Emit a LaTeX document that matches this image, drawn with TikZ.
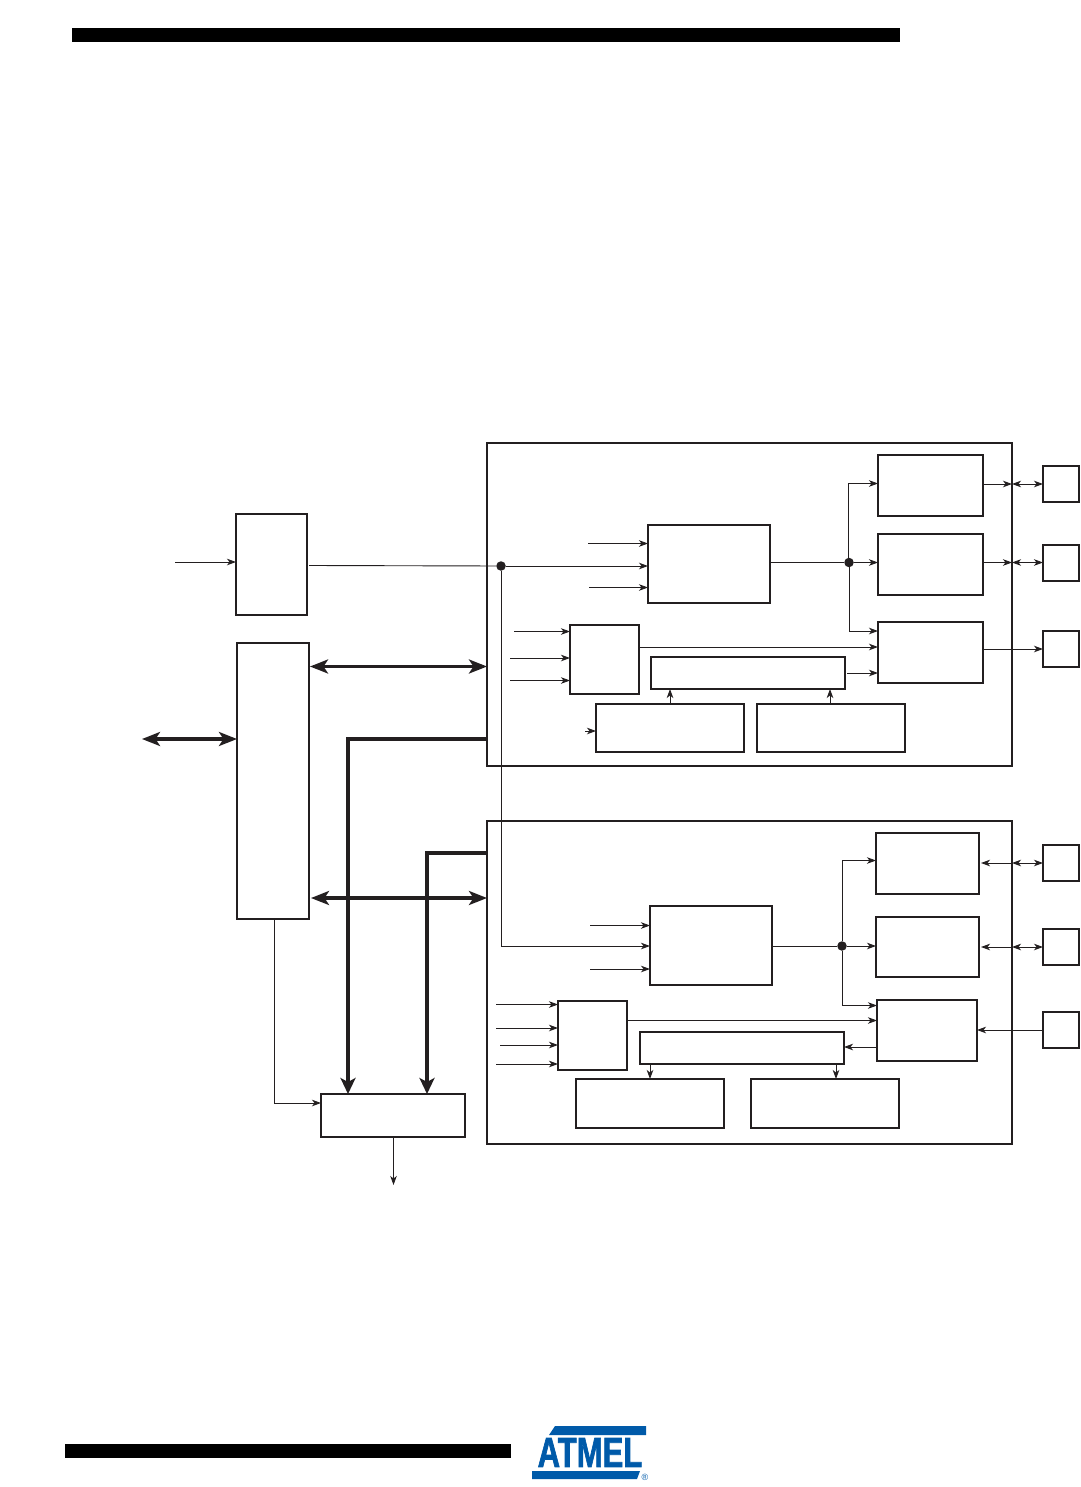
\documentclass[tikz,border=0pt]{standalone}
\usepackage{fontspec}
\setsansfont{Liberation Sans}
\newfontfamily\logofont[FakeBold=2]{Liberation Sans Bold}
\usepackage{xcolor}
\usetikzlibrary{arrows.meta}
\definecolor{ink}{HTML}{231F20}
\definecolor{logo}{HTML}{005AA9}
\tikzset{
  blk/.style={draw=ink, line width=1.5pt, inner sep=0pt, outer sep=0pt, fill=white},
  wire/.style={draw=ink, line width=0.9pt, -{Stealth[length=9pt,width=6.5pt,inset=2.5pt]}},
  wiredbl/.style={draw=ink, line width=0.9pt, {Stealth[length=9pt,width=6.5pt,inset=2.5pt]}-{Stealth[length=9pt,width=6.5pt,inset=2.5pt]}},
  plain/.style={draw=ink, line width=0.9pt},
  bus/.style={draw=ink, line width=3.2pt, -{Stealth[length=16pt,width=15pt,inset=4pt]}},
  busdbl/.style={draw=ink, line width=3.2pt, {Stealth[length=18pt,width=14pt,inset=4.5pt]}-{Stealth[length=18pt,width=14pt,inset=4.5pt]}},
  dot/.style={circle, fill=ink, inner sep=0pt, minimum size=9.5pt}
}
\newcommand{\blkat}[5]{\node[blk, minimum width={(#4-#2)*1pt}, minimum height={(#5-#3)*1pt}] (#1) at ({(#2+#4)/2},{(#3+#5)/2}) {};}

\begin{document}
\begin{tikzpicture}[x=1pt,y=-1pt]
\useasboundingbox (0,0) rectangle (1080,1487);
% page bars
\fill[black] (72,28) rectangle (900,42);
\fill[black] (65,1444) rectangle (511,1458);
% logo
\fill[logo] (555,1426)--(646,1426)--(646,1435)--(549,1435)--cycle;
\fill[logo] (532,1471)--(640,1471)--(637,1479)--(532,1479)--cycle;
\node[text=logo, font=\logofont\fontsize{42}{42}\selectfont, inner sep=0pt, xscale=0.74] (brand) at (590,1452.5) {ATMEL};
\node[text=logo, font=\sffamily\fontsize{9}{9}\selectfont, inner sep=0pt] (regmark) at (645,1477) {®};

% outer panels
\blkat{upanel}{487}{443}{1012}{766}
\blkat{lpanel}{487}{821}{1012}{1144}
% left side
\blkat{clkbox}{236}{514}{307}{615}
\blkat{busbox}{237}{643}{309}{919}
\blkat{destbox}{321}{1094}{465}{1137}
% upper blocks
\blkat{utop}{878}{455}{983}{516}
\blkat{umidr}{878}{534}{983}{595}
\blkat{ulow}{878}{622}{983}{683}
\blkat{ucount}{648}{525}{770}{603}
\blkat{usel}{570}{625}{639}{694}
\blkat{ucmp}{651}{657}{845}{689}
\blkat{uregl}{596}{704}{744}{752}
\blkat{uregr}{757}{704}{905}{752}
\blkat{upina}{1043}{466}{1079}{502}
\blkat{upinb}{1043}{545}{1079}{581}
\blkat{upinc}{1043}{631}{1079}{667}
% lower blocks
\blkat{ltop}{876}{833}{979}{894}
\blkat{lmidr}{876}{917}{979}{977}
\blkat{llow}{877}{1000}{977}{1061}
\blkat{lcount}{650}{906}{772}{985}
\blkat{lsel}{558}{1001}{627}{1070}
\blkat{lcmp}{640}{1032}{844}{1064}
\blkat{lregl}{576}{1079}{724}{1128}
\blkat{lregr}{751}{1079}{899}{1128}
\blkat{lpina}{1043}{845}{1079}{881}
\blkat{lpinb}{1043}{929}{1079}{965}
\blkat{lpinc}{1043}{1012}{1079}{1048}

% dots and free ends
\node[dot] (clkdot) at (501,566) {};
\node[dot] (udot) at (849,562.5) {};
\node[dot] (ldot) at (842,946) {};
\coordinate (clkin) at (175,562);
\coordinate (extbus) at (142,739);
\coordinate (destout) at (393.5,1185);
\coordinate (ulevel) at (310,666.5);
\coordinate (llevel) at (311,898);
\coordinate (ctrla) at (348,739);
\coordinate (ctrlb) at (427,853);
\coordinate (destfeed) at (274.5,1103);
\coordinate (uina) at (588,543.5);
\coordinate (uinb) at (589,587.5);
\coordinate (usela) at (514,631.5);
\coordinate (uselb) at (510,658);
\coordinate (uselc) at (510,680.5);
\coordinate (uselout) at (639,647);
\coordinate (ucmpout) at (847,673);
\coordinate (ureglup) at (670,704);
\coordinate (uregrup) at (830,704);
\coordinate (utick) at (585,731);
\coordinate (lina) at (590,925.5);
\coordinate (linb) at (590,969);
\coordinate (lsela) at (496,1004.5);
\coordinate (lselb) at (496,1028);
\coordinate (lselc) at (500,1045);
\coordinate (lseld) at (496,1064);
\coordinate (lselout) at (626,1020.5);
\coordinate (lcmpin) at (877,1047);
\coordinate (lregld) at (650,1064);
\coordinate (lregrd) at (836,1064);

% left side wires
\draw[wire] (clkin) -- (clkin -| clkbox.west);
\draw[plain] (309,565.5) -- (clkdot);
\draw[busdbl] (extbus) -- (extbus -| busbox.west);
\draw[busdbl] (ulevel) -- (ulevel -| upanel.west);
\draw[busdbl] (llevel) -- (llevel -| lpanel.west);
\draw[bus] (ctrla -| upanel.west) -- (ctrla) -- (ctrla |- destbox.north);
\draw[bus] (ctrlb -| lpanel.west) -- (ctrlb) -- (ctrlb |- destbox.north);
\draw[wire] (busbox.south -| destfeed) -- (destfeed) -- (destfeed -| destbox.west);
\draw[wire] (destout |- destbox.south) -- (destout);

% upper wires
\draw[wire] (clkdot) -- (clkdot -| ucount.west);
\draw[wire] (uina) -- (uina -| ucount.west);
\draw[wire] (uinb) -- (uinb -| ucount.west);
\draw[plain] (udot -| ucount.east) -- (udot);
\draw[wire] (udot) -- (udot -| umidr.west);
\draw[wire] (848.5,562.5) -- (848.5,483.5) -- (878,483.5);
\draw[wire] (udot) -- (849,631) -- (878,631);
\draw[wire] (usela) -- (usela -| usel.west);
\draw[wire] (uselb) -- (uselb -| usel.west);
\draw[wire] (uselc) -- (uselc -| usel.west);
\draw[wire] (uselout) -- (uselout -| ulow.west);
\draw[wire] (ucmpout) -- (ucmpout -| ulow.west);
\draw[wire] (ureglup) -- (ureglup |- ucmp.south);
\draw[wire] (uregrup) -- (uregrup |- ucmp.south);
\draw[wire] (utick) -- (utick -| uregl.west);
\draw[wire] (upina.west -| utop.east) -- (upina.west -| upanel.east);
\draw[wire] (udot -| umidr.east) -- (udot -| upanel.east);
\draw[wiredbl] (upina.west -| upanel.east) -- (upina.west);
\draw[wiredbl] (udot -| upanel.east) -- (udot -| upinb.west);
\draw[wire] (upinc.west -| ulow.east) -- (upinc.west);

% lower wires
\draw[wire] (clkdot) -- (clkdot |- ldot) -- (ldot -| lcount.west);
\draw[wire] (lina) -- (lina -| lcount.west);
\draw[wire] (linb) -- (linb -| lcount.west);
\draw[plain] (ldot -| lcount.east) -- (ldot);
\draw[wire] (ldot) -- (ldot -| lmidr.west);
\draw[wire] (ldot) -- (842,860.5) -- (876,860.5);
\draw[wire] (ldot) -- (842,1005.5) -- (877,1005.5);
\draw[wire] (lsela) -- (lsela -| lsel.west);
\draw[wire] (lselb) -- (lselb -| lsel.west);
\draw[wire] (lselc) -- (lselc -| lsel.west);
\draw[wire] (lseld) -- (lseld -| lsel.west);
\draw[wire] (lselout) -- (lselout -| llow.west);
\draw[wire] (lcmpin) -- (lcmpin -| lcmp.east);
\draw[wire] (lregld) -- (lregld |- lregl.north);
\draw[wire] (lregrd) -- (lregrd |- lregr.north);
\draw[wiredbl] (lpina.west -| lpanel.east) -- (lpina.west);
\draw[wiredbl] (lpinb.west -| lpanel.east) -- (lpinb.west);
\draw[wire] (lpina.west -| lpanel.east) -- (981,863);
\draw[wire] (lpinb.west -| lpanel.east) -- (981,947);
\draw[wire] (lpinc.west) -- (lpinc.west -| llow.east);
\end{tikzpicture}
\end{document}
